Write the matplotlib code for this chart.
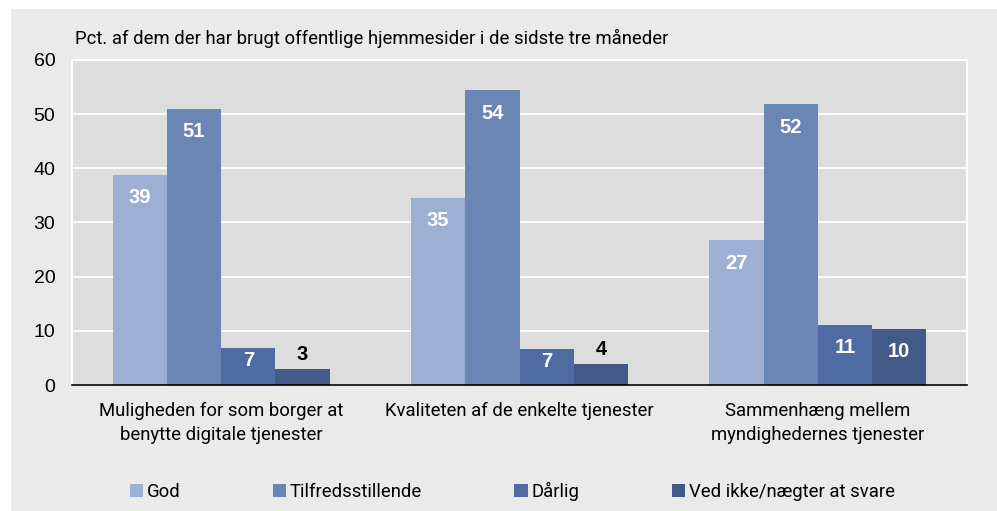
import numpy as np
import matplotlib.pyplot as plt
from matplotlib.patches import Rectangle

# Data
categories = ["Muligheden for som borger at\nbenytte digitale tjenester",
              "Kvaliteten af de enkelte tjenester",
              "Sammenhæng mellem\nmyndighedernes tjenester"]
series = ["God", "Tilfredsstillende", "Dårlig", "Ved ikke/nægter at svare"]
god = [38.8, 34.6, 26.7]
tilfreds = [51.0, 54.4, 51.8]
daarlig = [6.9, 6.7, 11.1]
ved_ikke = [3.0, 3.9, 10.4]
values = [god, tilfreds, daarlig, ved_ikke]
labels = [[39, 35, 27], [51, 54, 52], [7, 7, 11], [3, 4, 10]]
colors = ["#9DB0D4", "#6A86B5", "#4E6CA2", "#415A88"]

narrow = ["Roboto", "DejaVu Sans"]

fig = plt.figure(figsize=(9.97, 5.11), dpi=100)
fig.patch.set_facecolor("white")
fig.patches.append(Rectangle((11 / 997, 0), 1, 1 - 9 / 511, transform=fig.transFigure,
                             facecolor="#EAEAEA", edgecolor="none", zorder=-10))

ax = fig.add_axes([72 / 997, 1 - 385 / 511, 895 / 997, 325 / 511])
ax.set_facecolor("#DDDDDD")

x = np.arange(len(categories))
width = 0.182
for i, (vals, col) in enumerate(zip(values, colors)):
    pos = x + (i - 1.5) * width
    bars = ax.bar(pos, vals, width, color=col, label=series[i], zorder=3)
    for b, v, lab in zip(bars, vals, labels[i]):
        cx = b.get_x() + b.get_width() / 2
        if v < 5:
            ax.annotate(str(lab), (cx, v), xytext=(0, 10.5), textcoords="offset points",
                        ha="center", va="center", fontsize=14.5, fontweight="bold",
                        color="black", family="Liberation Sans")
        else:
            off = -16.5 if v > 9 else -9.5
            ax.annotate(str(lab), (cx, v), xytext=(0, off), textcoords="offset points",
                        ha="center", va="center", fontsize=14.5, fontweight="bold",
                        color="white", family="Liberation Sans")

ax.set_ylim(0, 60)
ax.set_xlim(-0.5, 2.5)
ax.set_yticks(range(0, 61, 10))
ax.tick_params(axis="y", length=0, pad=12, labelsize=14)
for t in ax.get_yticklabels():
    t.set_family("Liberation Sans")
ax.set_xticks(x)
ax.set_xticklabels(categories, fontsize=13.3, family=narrow, linespacing=1.45)
ax.tick_params(axis="x", length=0, pad=12)
ax.grid(axis="y", color="white", linewidth=1.3, zorder=0)
for s in ["top", "right", "left"]:
    ax.spines[s].set_color("white")
    ax.spines[s].set_linewidth(1.5)
ax.spines["bottom"].set_color("black")
ax.spines["bottom"].set_linewidth(1.2)
ax.spines["bottom"].set_zorder(4)

fig.text(75 / 997, 1 - 38 / 511, "Pct. af dem der har brugt offentlige hjemmesider i de sidste tre måneder",
         fontsize=13.3, family=narrow, va="center", ha="left")

leg = fig.legend(loc="center left", bbox_to_anchor=(113 / 997, 1 - 491 / 511), ncol=4,
                 frameon=False, handlelength=0.72, handleheight=0.72, handletextpad=0.2,
                 columnspacing=5.0, prop={"family": narrow, "size": 13.3})

fig.savefig("out.png", dpi=100)
